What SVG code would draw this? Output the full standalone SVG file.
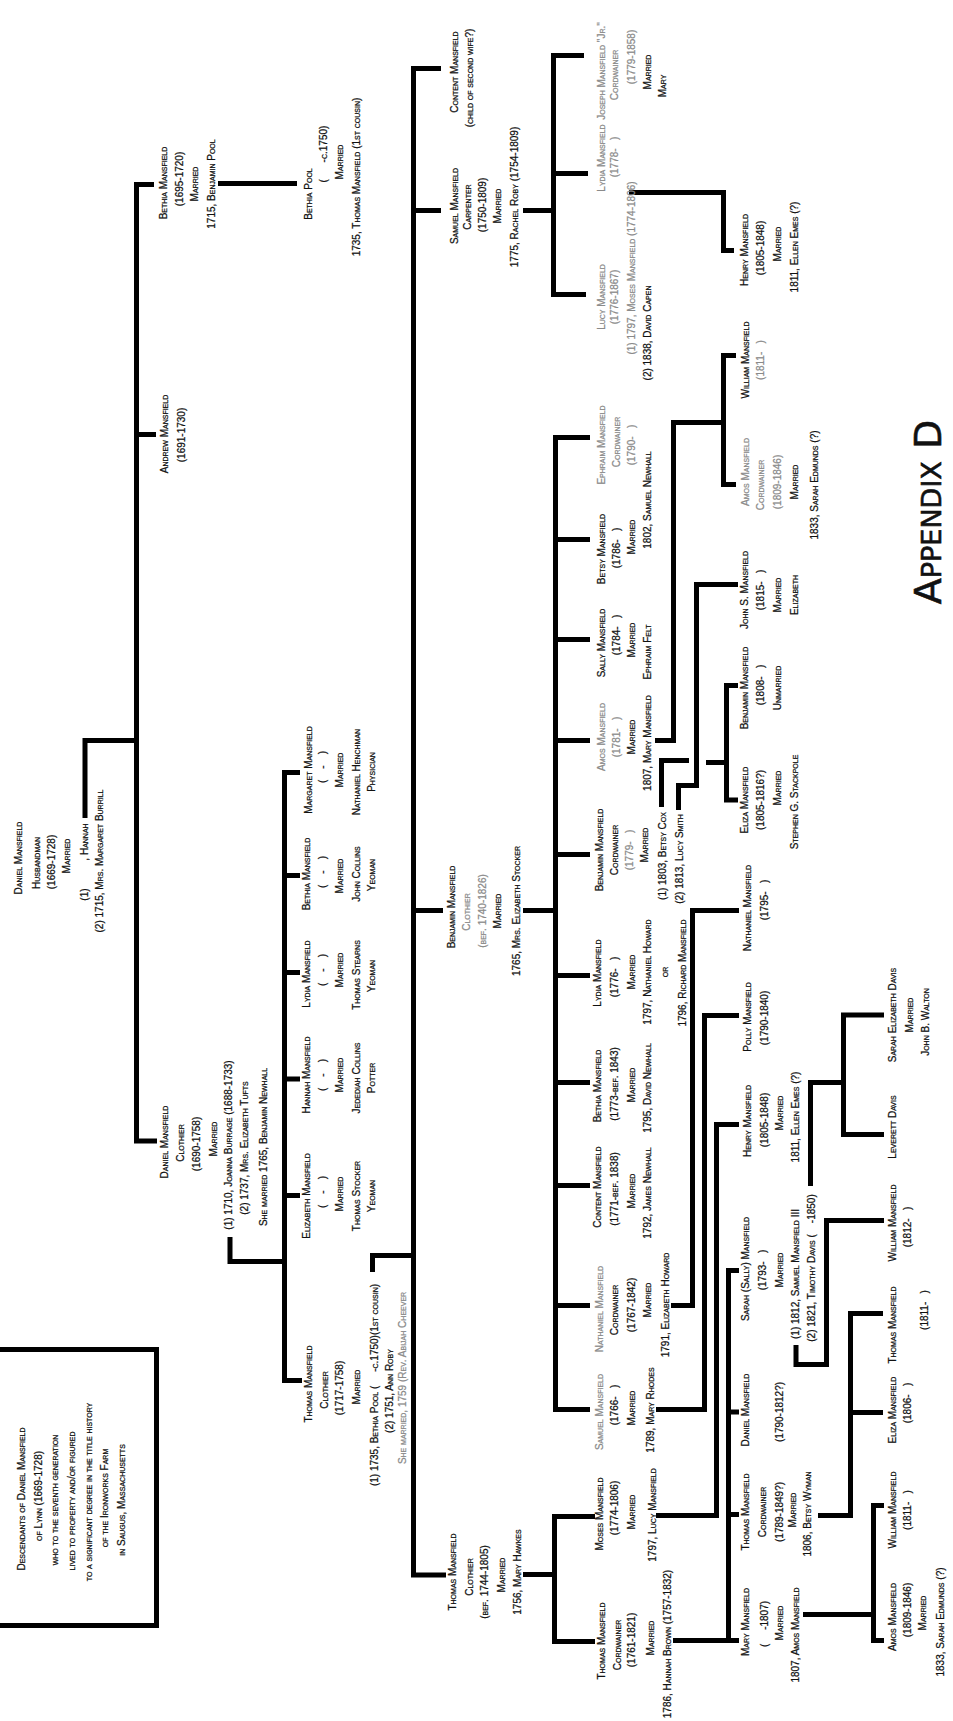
<svg xmlns="http://www.w3.org/2000/svg" width="953" height="1721" viewBox="0 0 953 1721">
<style>
text{font-family:"Liberation Sans",Arial,sans-serif;font-size:10px;font-variant:small-caps;text-anchor:middle;fill:#111;stroke:#111;stroke-width:0.25}
.f{fill:#8a8a8a;stroke:#8a8a8a}
.big{font-size:38px;font-family:"DejaVu Sans",sans-serif;stroke-width:0.6}
#connectors path{fill:none;stroke:#000;stroke-width:5;stroke-linecap:butt;stroke-linejoin:miter}
</style>
<rect width="953" height="1721" fill="#fff"/>
<g id="connectors">
<path d="M85,818 V740.5 H136.5"/>
<path d="M154,184.5 H136.5 V1141 H157"/>
<path d="M136.5,434.5 H156"/>
<path d="M218,183.5 H297"/>
<path d="M230,1237 V1261.5 H284.5"/>
<path d="M300,772.5 H284.5 V1380.5 H302"/>
<path d="M284.5,875.5 H300 M284.5,972.5 H300 M284.5,1079 H300 M284.5,1195.5 H300"/>
<path d="M372.5,1272 V1255.5 H413.5"/>
<path d="M441,68.5 H413.5 V1575 H446"/>
<path d="M413.5,210.5 H441 M413.5,910.5 H443"/>
<path d="M523,210.5 H553.5"/>
<path d="M584,55.5 H553.5 V294.5 H586 M553.5,173.5 H588"/>
<path d="M629,192.5 H723.5 V250.5 H734"/>
<path d="M523,910.5 H555.5"/>
<path d="M590,437.5 H555.5 V1409.5 H590"/>
<path d="M555.5,539.5 H590 M555.5,639.5 H590 M555.5,740.5 H590 M555.5,854.5 H590 M555.5,975.5 H590 M555.5,1082.5 H590 M555.5,1185.5 H590 M555.5,1305.5 H590"/>
<path d="M655,740.5 H673.5 V422.5 H723.5"/>
<path d="M736,355.5 H723.5 V484.5 H736"/>
<path d="M661.5,807 V760.5 H689"/>
<path d="M706,762.5 H726.5"/>
<path d="M738,685.5 H726.5 V800 H738"/>
<path d="M678.5,810 V785.5 H696.5 V584.5 H738"/>
<path d="M523,1574.5 H554.5"/>
<path d="M595,1516.5 H554.5 V1641.5 H595"/>
<path d="M671,1305.5 H692.5 V910.5 H739"/>
<path d="M656,1409.5 H704.5 V1015.5 H739"/>
<path d="M656,1515.5 H716.5 V1124.5 H739"/>
<path d="M673,1640.5 H739 M739,1270.5 H728.5 V1640.5 M728.5,1412 H739 M728.5,1514.5 H739"/>
<path d="M796,1345 V1364.5 H826.5 V1220.5 H884"/>
<path d="M810.5,1186 V1082.5 H843.5"/>
<path d="M884,1015 H843.5 V1134.5 H884"/>
<path d="M883,1313.5 H850.5 V1515.5 H818 M850.5,1412.5 H883"/>
<path d="M803,1614.5 H873.5"/>
<path d="M884,1505.5 H873.5 V1640.5 H884"/>
<path d="M0,1349.5 H156.5 V1625.5 H0"/>
</g>
<g id="box">
<text transform="translate(25 1499) rotate(-90)">Descendants of Daniel Mansfield</text>
<text transform="translate(42 1496) rotate(-90)">of Lynn (1669-1728)</text>
<text transform="translate(58 1500) rotate(-90)">who to the seventh generation</text>
<text transform="translate(75 1501) rotate(-90)">lived to property and/or figured</text>
<text transform="translate(92 1492) rotate(-90)">to a significant degree in the title history</text>
<text transform="translate(108 1498) rotate(-90)">of the Ironworks Farm</text>
<text transform="translate(125 1500) rotate(-90)">in Saugus, Massachusetts</text>
</g>
<g id="title"><text class="big" transform="translate(941 512) rotate(-90)">Appendix D</text></g>
<g id="n-daniel-husbandman">
<text transform="translate(22 858) rotate(-90)">Daniel Mansfield</text>
<text transform="translate(40 863) rotate(-90)">Husbandman</text>
<text transform="translate(55 862) rotate(-90)">(1669-1728)</text>
<text transform="translate(70 856) rotate(-90)">Married</text>
<text transform="translate(88 862) rotate(-90)" xml:space="preserve">(1)          , Hannah</text>
<text transform="translate(103 861) rotate(-90)">(2) 1715, Mrs. Margaret Burrill</text>
</g>
<g id="n-bethia-1695">
<text transform="translate(167 183) rotate(-90)">Bethia Mansfield</text>
<text transform="translate(183 179) rotate(-90)">(1695-1720)</text>
<text transform="translate(198 184) rotate(-90)">Married</text>
<text transform="translate(215 184) rotate(-90)">1715, Benjamin Pool</text>
</g>
<g id="n-andrew">
<text transform="translate(168 434) rotate(-90)">Andrew Mansfield</text>
<text transform="translate(185 435) rotate(-90)">(1691-1730)</text>
</g>
<g id="n-daniel-clothier">
<text transform="translate(168 1142) rotate(-90)">Daniel Mansfield</text>
<text transform="translate(184 1143) rotate(-90)">Clothier</text>
<text transform="translate(200 1144) rotate(-90)">(1690-1758)</text>
<text transform="translate(217 1139) rotate(-90)">Married</text>
<text transform="translate(232 1145) rotate(-90)">(1) 1710, Joanna Burrage (1688-1733)</text>
<text transform="translate(248 1148) rotate(-90)">(2) 1737, Mrs. Elizabeth Tufts</text>
<text transform="translate(267 1147) rotate(-90)">She married 1765, Benjamin Newhall</text>
</g>
<g id="n-bethia-pool">
<text transform="translate(312 194) rotate(-90)">Bethia Pool</text>
<text transform="translate(327 154) rotate(-90)" xml:space="preserve">(      -c.1750)</text>
<text transform="translate(343 162) rotate(-90)">Married</text>
<text transform="translate(360 177) rotate(-90)">1735, Thomas Mansfield (1st cousin)</text>
</g>
<g id="n-margaret">
<text transform="translate(312 770) rotate(-90)">Margaret Mansfield</text>
<text transform="translate(326 767) rotate(-90)" xml:space="preserve">(    -    )</text>
<text transform="translate(343 770) rotate(-90)">Married</text>
<text transform="translate(360 772) rotate(-90)">Nathaniel Henchman</text>
<text transform="translate(375 772) rotate(-90)">Physician</text>
</g>
<g id="n-bethia-d">
<text transform="translate(310 874) rotate(-90)">Bethia Mansfield</text>
<text transform="translate(326 872) rotate(-90)" xml:space="preserve">(    -    )</text>
<text transform="translate(343 876) rotate(-90)">Married</text>
<text transform="translate(360 874) rotate(-90)">John Collins</text>
<text transform="translate(375 875) rotate(-90)">Yeoman</text>
</g>
<g id="n-lydia-d">
<text transform="translate(310 974) rotate(-90)">Lydia Mansfield</text>
<text transform="translate(326 970) rotate(-90)" xml:space="preserve">(    -    )</text>
<text transform="translate(343 970) rotate(-90)">Married</text>
<text transform="translate(360 975) rotate(-90)">Thomas Stearns</text>
<text transform="translate(375 976) rotate(-90)">Yeoman</text>
</g>
<g id="n-hannah-d">
<text transform="translate(310 1075) rotate(-90)">Hannah Mansfield</text>
<text transform="translate(326 1075) rotate(-90)" xml:space="preserve">(    -    )</text>
<text transform="translate(343 1075) rotate(-90)">Married</text>
<text transform="translate(360 1078) rotate(-90)">Jedediah Collins</text>
<text transform="translate(375 1078) rotate(-90)">Potter</text>
</g>
<g id="n-elizabeth-d">
<text transform="translate(310 1196) rotate(-90)">Elizabeth Mansfield</text>
<text transform="translate(326 1192) rotate(-90)" xml:space="preserve">(    -    )</text>
<text transform="translate(343 1194) rotate(-90)">Married</text>
<text transform="translate(360 1196) rotate(-90)">Thomas Stocker</text>
<text transform="translate(375 1196) rotate(-90)">Yeoman</text>
</g>
<g id="n-thomas-1717">
<text transform="translate(312 1384) rotate(-90)">Thomas Mansfield</text>
<text transform="translate(328 1390) rotate(-90)">Clothier</text>
<text transform="translate(343 1388) rotate(-90)">(1717-1758)</text>
<text transform="translate(360 1387) rotate(-90)">Married</text>
<text transform="translate(378 1385) rotate(-90)" xml:space="preserve">(1) 1735, Bethia Pool (     -c.1750)(1st cousin)</text>
<text transform="translate(393 1391) rotate(-90)">(2) 1751, Ann Roby</text>
<text class="f" transform="translate(406 1378) rotate(-90)">She married, 1759 (Rev. Abijah Cheever</text>
</g>
<g id="n-content-1">
<text transform="translate(458 72) rotate(-90)">Content Mansfield</text>
<text transform="translate(473 78) rotate(-90)">(child of second wife?)</text>
</g>
<g id="n-samuel-carpenter">
<text transform="translate(458 206) rotate(-90)">Samuel Mansfield</text>
<text transform="translate(471 207) rotate(-90)">Carpenter</text>
<text transform="translate(486 205) rotate(-90)">(1750-1809)</text>
<text transform="translate(501 206) rotate(-90)">Married</text>
<text transform="translate(518 197) rotate(-90)">1775, Rachel Roby (1754-1809)</text>
</g>
<g id="n-benjamin-sr">
<text transform="translate(455 907) rotate(-90)">Benjamin Mansfield</text>
<text class="f" transform="translate(470 912) rotate(-90)">Clothier</text>
<text class="f" transform="translate(486 911) rotate(-90)">(bef. 1740-1826)</text>
<text transform="translate(501 911) rotate(-90)">Married</text>
<text transform="translate(520 911) rotate(-90)">1765, Mrs. Elizabeth Stocker</text>
</g>
<g id="n-thomas-1744">
<text transform="translate(456 1572) rotate(-90)">Thomas Mansfield</text>
<text transform="translate(473 1577) rotate(-90)">Clothier</text>
<text transform="translate(488 1582) rotate(-90)">(bef. 1744-1805)</text>
<text transform="translate(505 1575) rotate(-90)">Married</text>
<text transform="translate(521 1572) rotate(-90)">1756, Mary Hawkes</text>
</g>
<g id="n-joseph">
<text class="f" transform="translate(605 71) rotate(-90)">Joseph Mansfield "Jr."</text>
<text class="f" transform="translate(618 75) rotate(-90)">Cordwainer</text>
<text class="f" transform="translate(635 57) rotate(-90)">(1779-1858)</text>
<text transform="translate(651 72) rotate(-90)">Married</text>
<text transform="translate(666 86) rotate(-90)">Mary</text>
</g>
<g id="n-lydia-1778">
<text class="f" transform="translate(605 158) rotate(-90)">Lydia Mansfield</text>
<text class="f" transform="translate(618 157) rotate(-90)" xml:space="preserve">(1778-   )</text>
</g>
<g id="n-lucy">
<text class="f" transform="translate(605 297) rotate(-90)">Lucy Mansfield</text>
<text class="f" transform="translate(618 297) rotate(-90)">(1776-1867)</text>
<text class="f" transform="translate(635 268) rotate(-90)">(1) 1797, Moses Mansfield (1774-1806)</text>
<text transform="translate(651 333) rotate(-90)">(2) 1838, David Capen</text>
</g>
<g id="n-henry-1">
<text transform="translate(748 250) rotate(-90)">Henry Mansfield</text>
<text transform="translate(764 248) rotate(-90)">(1805-1848)</text>
<text transform="translate(781 244) rotate(-90)">Married</text>
<text transform="translate(798 247) rotate(-90)">1811, Ellen Emes (?)</text>
</g>
<g id="n-ephraim">
<text class="f" transform="translate(605 445) rotate(-90)">Ephraim Mansfield</text>
<text class="f" transform="translate(620 442) rotate(-90)">Cordwainer</text>
<text class="f" transform="translate(635 445) rotate(-90)" xml:space="preserve">(1790-   )</text>
</g>
<g id="n-betsy">
<text transform="translate(605 549) rotate(-90)">Betsy Mansfield</text>
<text transform="translate(620 548) rotate(-90)" xml:space="preserve">(1786-   )</text>
<text transform="translate(635 537) rotate(-90)">Married</text>
<text transform="translate(651 500) rotate(-90)">1802, Samuel Newhall</text>
</g>
<g id="n-sally">
<text transform="translate(605 643) rotate(-90)">Sally Mansfield</text>
<text transform="translate(620 635) rotate(-90)" xml:space="preserve">(1784-   )</text>
<text transform="translate(635 640) rotate(-90)">Married</text>
<text transform="translate(651 652) rotate(-90)">Ephraim Felt</text>
</g>
<g id="n-amos-1781">
<text class="f" transform="translate(605 737) rotate(-90)">Amos Mansfield</text>
<text class="f" transform="translate(620 737) rotate(-90)" xml:space="preserve">(1781-   )</text>
<text transform="translate(635 737) rotate(-90)">Married</text>
<text transform="translate(651 743) rotate(-90)">1807, Mary Mansfield</text>
</g>
<g id="n-benjamin-jr">
<text transform="translate(603 850) rotate(-90)">Benjamin Mansfield</text>
<text transform="translate(618 850) rotate(-90)">Cordwainer</text>
<text class="f" transform="translate(633 850) rotate(-90)" xml:space="preserve">(1779-   )</text>
<text transform="translate(648 845) rotate(-90)">Married</text>
<text transform="translate(666 856) rotate(-90)">(1) 1803, Betsy Cox</text>
<text transform="translate(683 859) rotate(-90)">(2) 1813, Lucy Smith</text>
</g>
<g id="n-lydia-1776">
<text transform="translate(601 973) rotate(-90)">Lydia Mansfield</text>
<text transform="translate(618 977) rotate(-90)" xml:space="preserve">(1776-   )</text>
<text transform="translate(635 972) rotate(-90)">Married</text>
<text transform="translate(651 972) rotate(-90)">1797, Nathaniel Howard</text>
<text transform="translate(668 972) rotate(-90)">or</text>
<text transform="translate(686 973) rotate(-90)">1796, Richard Mansfield</text>
</g>
<g id="n-bethia-1773">
<text transform="translate(601 1086) rotate(-90)">Bethia Mansfield</text>
<text transform="translate(618 1084) rotate(-90)">(1773-bef. 1843)</text>
<text transform="translate(635 1085) rotate(-90)">Married</text>
<text transform="translate(651 1088) rotate(-90)">1795, David Newhall</text>
</g>
<g id="n-content-1771">
<text transform="translate(601 1187) rotate(-90)">Content Mansfield</text>
<text transform="translate(618 1189) rotate(-90)">(1771-bef. 1838)</text>
<text transform="translate(635 1191) rotate(-90)">Married</text>
<text transform="translate(651 1193) rotate(-90)">1792, James Newhall</text>
</g>
<g id="n-nathaniel-1767">
<text class="f" transform="translate(603 1309) rotate(-90)">Nathaniel Mansfield</text>
<text transform="translate(618 1310) rotate(-90)">Cordwainer</text>
<text transform="translate(635 1305) rotate(-90)">(1767-1842)</text>
<text transform="translate(651 1300) rotate(-90)">Married</text>
<text transform="translate(669 1305) rotate(-90)">1791, Elizabeth Howard</text>
</g>
<g id="n-samuel-1766">
<text class="f" transform="translate(603 1412) rotate(-90)">Samuel Mansfield</text>
<text transform="translate(618 1405) rotate(-90)" xml:space="preserve">(1766-   )</text>
<text transform="translate(635 1408) rotate(-90)">Married</text>
<text transform="translate(654 1410) rotate(-90)">1789, Mary Rhodes</text>
</g>
<g id="n-moses">
<text transform="translate(603 1514) rotate(-90)">Moses Mansfield</text>
<text transform="translate(618 1508) rotate(-90)">(1774-1806)</text>
<text transform="translate(635 1512) rotate(-90)">Married</text>
<text transform="translate(656 1515) rotate(-90)">1797, Lucy Mansfield</text>
</g>
<g id="n-thomas-1761">
<text transform="translate(605 1641) rotate(-90)">Thomas Mansfield</text>
<text transform="translate(621 1645) rotate(-90)">Cordwainer</text>
<text transform="translate(635 1640) rotate(-90)">(1761-1821)</text>
<text transform="translate(654 1638) rotate(-90)">Married</text>
<text transform="translate(671 1644) rotate(-90)">1786, Hannah Brown (1757-1832)</text>
</g>
<g id="n-william-1811a">
<text transform="translate(749 360) rotate(-90)">William Mansfield</text>
<text class="f" transform="translate(764 360) rotate(-90)" xml:space="preserve">(1811-   )</text>
</g>
<g id="n-amos-1809a">
<text class="f" transform="translate(749 472) rotate(-90)">Amos Mansfield</text>
<text class="f" transform="translate(764 485) rotate(-90)">Cordwainer</text>
<text class="f" transform="translate(781 482) rotate(-90)">(1809-1846)</text>
<text transform="translate(798 482) rotate(-90)">Married</text>
<text transform="translate(818 485) rotate(-90)">1833, Sarah Edmunds (?)</text>
</g>
<g id="n-john-s">
<text transform="translate(748 590) rotate(-90)">John S. Mansfield</text>
<text transform="translate(764 590) rotate(-90)" xml:space="preserve">(1815-   )</text>
<text transform="translate(781 595) rotate(-90)">Married</text>
<text transform="translate(798 595) rotate(-90)">Elizabeth</text>
</g>
<g id="n-benjamin-1808">
<text transform="translate(748 688) rotate(-90)">Benjamin Mansfield</text>
<text transform="translate(764 685) rotate(-90)" xml:space="preserve">(1808-   )</text>
<text transform="translate(781 688) rotate(-90)">Unmarried</text>
</g>
<g id="n-eliza-1805">
<text transform="translate(748 800) rotate(-90)">Eliza Mansfield</text>
<text transform="translate(764 800) rotate(-90)">(1805-1816?)</text>
<text transform="translate(781 788) rotate(-90)">Married</text>
<text transform="translate(798 802) rotate(-90)">Stephen G. Stackpole</text>
</g>
<g id="n-nathaniel-1795">
<text transform="translate(751 908) rotate(-90)">Nathaniel Mansfield</text>
<text transform="translate(768 900) rotate(-90)" xml:space="preserve">(1795-   )</text>
</g>
<g id="n-polly">
<text transform="translate(751 1017) rotate(-90)">Polly Mansfield</text>
<text transform="translate(768 1018) rotate(-90)">(1790-1840)</text>
</g>
<g id="n-henry-2">
<text transform="translate(751 1121) rotate(-90)">Henry Mansfield</text>
<text transform="translate(768 1120) rotate(-90)">(1805-1848)</text>
<text transform="translate(783 1113) rotate(-90)">Married</text>
<text transform="translate(799 1117) rotate(-90)">1811, Ellen Emes (?)</text>
</g>
<g id="n-sarah-sally">
<text transform="translate(749 1269) rotate(-90)">Sarah (Sally) Mansfield</text>
<text transform="translate(766 1270) rotate(-90)" xml:space="preserve">(1793-   )</text>
<text transform="translate(783 1270) rotate(-90)">Married</text>
<text transform="translate(799 1274) rotate(-90)">(1) 1812, Samuel Mansfield III</text>
<text transform="translate(815 1268) rotate(-90)" xml:space="preserve">(2) 1821, Timothy Davis (    -1850)</text>
</g>
<g id="n-daniel-1790">
<text transform="translate(749 1410) rotate(-90)">Daniel Mansfield</text>
<text transform="translate(783 1412) rotate(-90)">(1790-1812?)</text>
</g>
<g id="n-thomas-1789">
<text transform="translate(749 1512) rotate(-90)">Thomas Mansfield</text>
<text transform="translate(766 1512) rotate(-90)">Cordwainer</text>
<text transform="translate(783 1512) rotate(-90)">(1789-1849?)</text>
<text transform="translate(796 1510) rotate(-90)">Married</text>
<text transform="translate(811 1514) rotate(-90)">1806, Betsy Wyman</text>
</g>
<g id="n-mary">
<text transform="translate(749 1622) rotate(-90)">Mary Mansfield</text>
<text transform="translate(768 1624) rotate(-90)" xml:space="preserve">(     -1807)</text>
<text transform="translate(783 1623) rotate(-90)">Married</text>
<text transform="translate(799 1635) rotate(-90)">1807, Amos Mansfield</text>
</g>
<g id="n-sarah-elizabeth">
<text transform="translate(896 1015) rotate(-90)">Sarah Elizabeth Davis</text>
<text transform="translate(913 1015) rotate(-90)">Married</text>
<text transform="translate(929 1022) rotate(-90)">John B. Walton</text>
</g>
<g id="n-leverett"><text transform="translate(896 1127) rotate(-90)">Leverett Davis</text></g>
<g id="n-william-1812">
<text transform="translate(896 1223) rotate(-90)">William Mansfield</text>
<text transform="translate(911 1227) rotate(-90)" xml:space="preserve">(1812-   )</text>
</g>
<g id="n-thomas-1811">
<text transform="translate(896 1325) rotate(-90)">Thomas Mansfield</text>
<text transform="translate(928 1310) rotate(-90)" xml:space="preserve">(1811-   )</text>
</g>
<g id="n-eliza-1806">
<text transform="translate(896 1410) rotate(-90)">Eliza Mansfield</text>
<text transform="translate(911 1403) rotate(-90)" xml:space="preserve">(1806-   )</text>
</g>
<g id="n-william-1811b">
<text transform="translate(896 1510) rotate(-90)">William Mansfield</text>
<text transform="translate(911 1510) rotate(-90)" xml:space="preserve">(1811-   )</text>
</g>
<g id="n-amos-1809b">
<text transform="translate(896 1617) rotate(-90)">Amos Mansfield</text>
<text transform="translate(911 1610) rotate(-90)">(1809-1846)</text>
<text transform="translate(926 1613) rotate(-90)">Married</text>
<text transform="translate(944 1622) rotate(-90)">1833, Sarah Edmunds (?)</text>
</g>
</svg>
